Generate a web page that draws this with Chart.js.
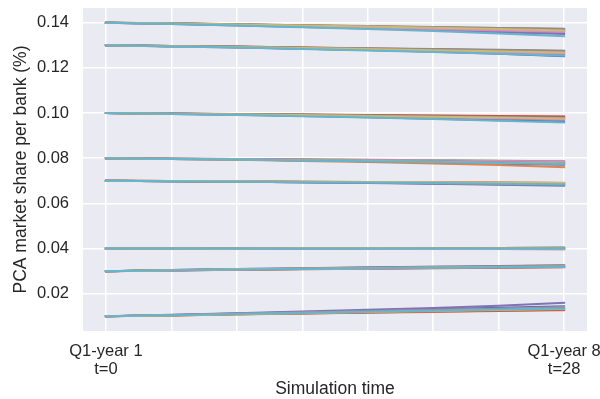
<!DOCTYPE html>
<html>
<head>
<meta charset="utf-8">
<title>PCA market share per bank</title>
<script src="https://cdn.jsdelivr.net/npm/chart.js@4.4.1/dist/chart.umd.min.js"></script>
<style>
  body { margin: 0; background: #ffffff; }
  #wrap { width: 600px; height: 399px; position: relative; }
</style>
</head>
<body>
<div id="wrap"><canvas id="shareChart"></canvas></div>
<script>
// Quarters at which each simulation run is sampled
const timeSteps = [0, 4, 8, 12, 16, 20, 24, 28];

// Ten simulation runs per bank, market share over time
const bankA = [
  [0.1400, 0.1395, 0.1390, 0.1384, 0.1378, 0.1371, 0.1363, 0.1354],
  [0.1400, 0.1397, 0.1393, 0.1389, 0.1384, 0.1380, 0.1376, 0.1372],
  [0.1400, 0.1396, 0.1391, 0.1386, 0.1381, 0.1375, 0.1369, 0.1364],
  [0.1400, 0.1396, 0.1392, 0.1387, 0.1382, 0.1377, 0.1371, 0.1366],
  [0.1400, 0.1394, 0.1388, 0.1381, 0.1374, 0.1366, 0.1358, 0.1350],
  [0.1400, 0.1397, 0.1392, 0.1388, 0.1383, 0.1379, 0.1374, 0.1369],
  [0.1400, 0.1395, 0.1390, 0.1384, 0.1378, 0.1372, 0.1365, 0.1359],
  [0.1400, 0.1397, 0.1393, 0.1389, 0.1385, 0.1381, 0.1377, 0.1373],
  [0.1400, 0.1396, 0.1392, 0.1388, 0.1383, 0.1378, 0.1372, 0.1366],
  [0.1400, 0.1394, 0.1387, 0.1380, 0.1372, 0.1363, 0.1352, 0.1340]
];
const bankB = [
  [0.1300, 0.1296, 0.1291, 0.1285, 0.1279, 0.1271, 0.1262, 0.1252],
  [0.1300, 0.1297, 0.1293, 0.1289, 0.1285, 0.1281, 0.1277, 0.1273],
  [0.1300, 0.1296, 0.1292, 0.1287, 0.1282, 0.1276, 0.1271, 0.1265],
  [0.1300, 0.1297, 0.1294, 0.1290, 0.1286, 0.1282, 0.1278, 0.1275],
  [0.1300, 0.1295, 0.1290, 0.1285, 0.1279, 0.1273, 0.1267, 0.1260],
  [0.1300, 0.1297, 0.1293, 0.1289, 0.1284, 0.1279, 0.1274, 0.1269],
  [0.1300, 0.1296, 0.1291, 0.1286, 0.1281, 0.1275, 0.1269, 0.1263],
  [0.1300, 0.1297, 0.1294, 0.1290, 0.1287, 0.1283, 0.1280, 0.1276],
  [0.1300, 0.1296, 0.1292, 0.1288, 0.1283, 0.1278, 0.1273, 0.1268],
  [0.1300, 0.1295, 0.1290, 0.1284, 0.1277, 0.1270, 0.1262, 0.1254]
];
const bankC = [
  [0.1000, 0.0996, 0.0992, 0.0987, 0.0981, 0.0975, 0.0968, 0.0961],
  [0.1000, 0.0998, 0.0995, 0.0993, 0.0990, 0.0988, 0.0986, 0.0984],
  [0.1000, 0.0997, 0.0994, 0.0990, 0.0986, 0.0982, 0.0978, 0.0974],
  [0.1000, 0.0998, 0.0996, 0.0993, 0.0991, 0.0989, 0.0987, 0.0985],
  [0.1000, 0.0997, 0.0993, 0.0989, 0.0985, 0.0980, 0.0975, 0.0970],
  [0.1000, 0.0997, 0.0995, 0.0992, 0.0989, 0.0986, 0.0982, 0.0979],
  [0.1000, 0.0997, 0.0993, 0.0990, 0.0986, 0.0981, 0.0977, 0.0972],
  [0.1000, 0.0998, 0.0995, 0.0992, 0.0989, 0.0985, 0.0982, 0.0978],
  [0.1000, 0.0997, 0.0994, 0.0991, 0.0987, 0.0984, 0.0980, 0.0976],
  [0.1000, 0.0996, 0.0991, 0.0986, 0.0980, 0.0974, 0.0966, 0.0958]
];
const bankD = [
  [0.0800, 0.0797, 0.0794, 0.0790, 0.0786, 0.0781, 0.0776, 0.0771],
  [0.0800, 0.0797, 0.0793, 0.0788, 0.0783, 0.0777, 0.0770, 0.0760],
  [0.0800, 0.0798, 0.0797, 0.0795, 0.0793, 0.0791, 0.0789, 0.0787],
  [0.0800, 0.0798, 0.0796, 0.0793, 0.0790, 0.0787, 0.0784, 0.0781],
  [0.0800, 0.0797, 0.0794, 0.0791, 0.0787, 0.0783, 0.0779, 0.0775],
  [0.0800, 0.0798, 0.0795, 0.0793, 0.0790, 0.0787, 0.0784, 0.0780],
  [0.0800, 0.0798, 0.0796, 0.0794, 0.0792, 0.0790, 0.0788, 0.0786],
  [0.0800, 0.0798, 0.0795, 0.0792, 0.0789, 0.0786, 0.0782, 0.0778],
  [0.0800, 0.0797, 0.0794, 0.0791, 0.0788, 0.0784, 0.0780, 0.0777],
  [0.0800, 0.0797, 0.0794, 0.0790, 0.0787, 0.0783, 0.0779, 0.0774]
];
const bankE = [
  [0.0700, 0.0698, 0.0696, 0.0694, 0.0691, 0.0688, 0.0685, 0.0681],
  [0.0700, 0.0699, 0.0697, 0.0696, 0.0694, 0.0693, 0.0691, 0.0690],
  [0.0700, 0.0698, 0.0697, 0.0695, 0.0693, 0.0691, 0.0689, 0.0687],
  [0.0700, 0.0699, 0.0698, 0.0696, 0.0695, 0.0693, 0.0692, 0.0690],
  [0.0700, 0.0698, 0.0696, 0.0693, 0.0690, 0.0687, 0.0683, 0.0678],
  [0.0700, 0.0699, 0.0697, 0.0695, 0.0693, 0.0691, 0.0688, 0.0686],
  [0.0700, 0.0698, 0.0697, 0.0695, 0.0694, 0.0692, 0.0690, 0.0688],
  [0.0700, 0.0698, 0.0696, 0.0694, 0.0692, 0.0689, 0.0686, 0.0683],
  [0.0700, 0.0699, 0.0698, 0.0696, 0.0695, 0.0694, 0.0692, 0.0691],
  [0.0700, 0.0698, 0.0696, 0.0694, 0.0692, 0.0690, 0.0687, 0.0684]
];
const bankF = [
  [0.0400, 0.0400, 0.0401, 0.0401, 0.0401, 0.0402, 0.0402, 0.0403],
  [0.0400, 0.0400, 0.0400, 0.0400, 0.0399, 0.0399, 0.0399, 0.0398],
  [0.0400, 0.0401, 0.0401, 0.0402, 0.0402, 0.0403, 0.0403, 0.0404],
  [0.0400, 0.0400, 0.0400, 0.0399, 0.0399, 0.0398, 0.0398, 0.0397],
  [0.0400, 0.0400, 0.0401, 0.0401, 0.0400, 0.0400, 0.0401, 0.0401],
  [0.0400, 0.0400, 0.0400, 0.0400, 0.0400, 0.0401, 0.0401, 0.0401],
  [0.0400, 0.0400, 0.0399, 0.0399, 0.0399, 0.0399, 0.0398, 0.0398],
  [0.0400, 0.0401, 0.0401, 0.0401, 0.0402, 0.0402, 0.0402, 0.0403],
  [0.0400, 0.0400, 0.0400, 0.0401, 0.0401, 0.0400, 0.0400, 0.0400],
  [0.0400, 0.0400, 0.0400, 0.0400, 0.0400, 0.0400, 0.0399, 0.0399]
];
const bankG = [
  [0.0300, 0.0304, 0.0308, 0.0311, 0.0314, 0.0317, 0.0320, 0.0322],
  [0.0300, 0.0303, 0.0306, 0.0309, 0.0312, 0.0314, 0.0316, 0.0318],
  [0.0300, 0.0304, 0.0307, 0.0311, 0.0314, 0.0316, 0.0319, 0.0321],
  [0.0300, 0.0303, 0.0306, 0.0308, 0.0311, 0.0313, 0.0315, 0.0317],
  [0.0300, 0.0305, 0.0309, 0.0313, 0.0317, 0.0320, 0.0323, 0.0326],
  [0.0300, 0.0304, 0.0307, 0.0310, 0.0313, 0.0316, 0.0318, 0.0320],
  [0.0300, 0.0303, 0.0307, 0.0310, 0.0312, 0.0315, 0.0317, 0.0319],
  [0.0300, 0.0305, 0.0309, 0.0312, 0.0316, 0.0319, 0.0322, 0.0325],
  [0.0300, 0.0304, 0.0308, 0.0311, 0.0313, 0.0316, 0.0318, 0.0320],
  [0.0300, 0.0304, 0.0307, 0.0310, 0.0313, 0.0315, 0.0317, 0.0319]
];
const bankH = [
  [0.0100, 0.0106, 0.0112, 0.0118, 0.0124, 0.0131, 0.0138, 0.0145],
  [0.0100, 0.0104, 0.0108, 0.0112, 0.0116, 0.0119, 0.0123, 0.0127],
  [0.0100, 0.0105, 0.0110, 0.0115, 0.0120, 0.0125, 0.0129, 0.0134],
  [0.0100, 0.0104, 0.0109, 0.0113, 0.0117, 0.0121, 0.0125, 0.0129],
  [0.0100, 0.0107, 0.0114, 0.0121, 0.0129, 0.0137, 0.0147, 0.0160],
  [0.0100, 0.0105, 0.0110, 0.0114, 0.0119, 0.0124, 0.0128, 0.0132],
  [0.0100, 0.0106, 0.0111, 0.0117, 0.0122, 0.0128, 0.0134, 0.0140],
  [0.0100, 0.0105, 0.0111, 0.0116, 0.0122, 0.0127, 0.0132, 0.0137],
  [0.0100, 0.0104, 0.0109, 0.0114, 0.0119, 0.0123, 0.0128, 0.0132],
  [0.0100, 0.0105, 0.0110, 0.0115, 0.0120, 0.0125, 0.0130, 0.0135]
];
const banks = [bankA, bankB, bankC, bankD, bankE, bankF, bankG, bankH];

// Axis ticks
const xGridSteps = [0, 4, 8, 12, 16, 20, 24, 28];
const xLabelSteps = [0, 28];
const xLabelText = [["Q1-year 1", "t=0"], ["Q1-year 8", "t=28"]];
const yTicks = [0.02, 0.04, 0.06, 0.08, 0.10, 0.12, 0.14];

// seaborn "deep" palette, one colour per run
const runColors = ["#4C72B0", "#DD8452", "#55A868", "#C44E52", "#8172B3",
                   "#937860", "#DA8BC3", "#8C8C8C", "#CCB974", "#64B5CD"];

const FONT = "'Liberation Sans', Arial, sans-serif";
const TEXT_COLOR = "#262626";

// Chart.js paints the first dataset last, so push the runs in reverse:
// the final run (cyan) ends up on top of every bundle
const datasets = [];
for (let run = runColors.length - 1; run >= 0; run--) {
  banks.forEach((bank) => {
    datasets.push({
      data: bank[run].map((v, i) => ({ x: timeSteps[i], y: v })),
      borderColor: runColors[run],
      borderWidth: 2,
      borderCapStyle: "square",
      pointRadius: 0,
      fill: false,
      tension: 0
    });
  });
}

// Grey plot background behind the grid
const plotBackground = {
  id: "plotBackground",
  beforeDraw(chart) {
    const { ctx, chartArea } = chart;
    ctx.save();
    ctx.fillStyle = "#EAEAF2";
    ctx.fillRect(chartArea.left, chartArea.top,
      chartArea.right - chartArea.left, chartArea.bottom - chartArea.top);
    ctx.restore();
  }
};

const ctx = document.getElementById("shareChart").getContext("2d");
new Chart(ctx, {
  type: "line",
  data: { datasets: datasets },
  options: {
    responsive: true,
    maintainAspectRatio: false,
    animation: false,
    events: [],
    layout: { padding: { top: 8, right: 13, left: 0, bottom: 0 } },
    plugins: {
      legend: { display: false },
      tooltip: { enabled: false }
    },
    scales: {
      x: {
        type: "linear",
        min: -1.4,
        max: 29.4,
        afterBuildTicks: (scale) => {
          scale.ticks = xGridSteps.map((v) => ({ value: v }));
        },
        afterFit: (scale) => {
          scale.height = 68;
          scale.paddingLeft = 0;
          scale.paddingRight = 0;
        },
        grid: { color: "#ffffff", lineWidth: 1.5, drawTicks: false },
        border: { display: false },
        ticks: {
          autoSkip: false,
          maxRotation: 0,
          padding: 11,
          color: TEXT_COLOR,
          font: { family: FONT, size: 16.5, lineHeight: 1.1 },
          callback: (value) => {
            const k = xLabelSteps.indexOf(value);
            return k >= 0 ? xLabelText[k] : "";
          }
        },
        title: {
          display: true,
          text: "Simulation time",
          color: TEXT_COLOR,
          font: { family: FONT, size: 17.5, lineHeight: 1 },
          padding: { top: 0, bottom: 1 }
        }
      },
      y: {
        min: 0.0035,
        max: 0.1465,
        afterBuildTicks: (scale) => {
          scale.ticks = yTicks.map((v) => ({ value: v }));
        },
        afterFit: (scale) => {
          scale.width = 83;
          scale.paddingTop = 0;
          scale.paddingBottom = 0;
        },
        grid: { color: "#ffffff", lineWidth: 1.5, drawTicks: false },
        border: { display: false },
        ticks: {
          padding: 14,
          color: TEXT_COLOR,
          font: { family: FONT, size: 16.5 },
          callback: (value) => value.toFixed(2)
        },
        title: {
          display: true,
          text: "PCA market share per bank (%)",
          color: TEXT_COLOR,
          font: { family: FONT, size: 17.5 },
          padding: { top: 11, bottom: 0 }
        }
      }
    }
  },
  plugins: [plotBackground]
});
</script>
</body>
</html>
